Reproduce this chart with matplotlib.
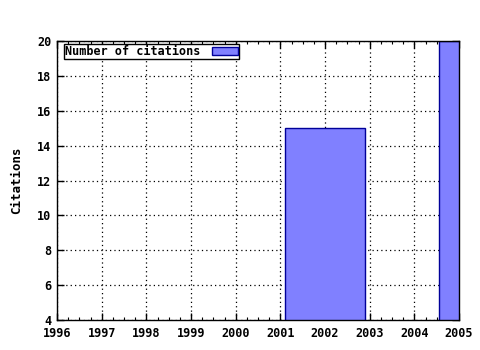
import matplotlib
matplotlib.use("Agg")
import matplotlib.pyplot as plt
from matplotlib.ticker import MultipleLocator

# values
years = [2002, 2005]
citations = [15, 20]
widths = [1.8, 0.9]
xticks = list(range(1996, 2006))
yticks = list(range(4, 21, 2))

plt.rcParams['font.family'] = ['DejaVu Sans Mono']
plt.rcParams['font.weight'] = 'bold'
plt.rcParams['axes.labelweight'] = 'bold'
plt.rcParams['font.size'] = 8.5

fig = plt.figure(figsize=(4.8, 3.5), dpi=100)
ax = fig.add_axes([0.11875, 0.0857, 0.8375, 0.797])

ax.bar(years, citations, width=widths, color='#8080ff', edgecolor='#000099',
       linewidth=1, label='Number of citations', zorder=3, clip_on=True)

ax.set_xlim(1996, 2005)
ax.set_ylim(4, 20)
ax.set_xticks(xticks)
ax.set_yticks(yticks)
ax.xaxis.set_minor_locator(MultipleLocator(0.25))
ax.tick_params(which='both', direction='in', top=True, right=True, color='black')
ax.tick_params(which='major', length=5, width=1)
ax.tick_params(which='minor', length=2.5, width=0.8)
ax.tick_params(axis='x', pad=5)
ax.tick_params(axis='y', pad=4)
ax.grid(True, which='major', linestyle=(0, (1, 2.5)), color='black', linewidth=0.9, zorder=1)
for s in ax.spines.values():
    s.set_linewidth(1)
    s.set_zorder(4)

ax.set_ylabel('Citations', labelpad=10, fontsize=9)

leg = ax.legend(loc='upper left', markerfirst=False, fancybox=False, framealpha=1,
                edgecolor='black', borderpad=0.1, handlelength=2.2, handleheight=0.6,
                handletextpad=1.0, borderaxespad=0.25, bbox_to_anchor=(0.01, 1.0))
leg.get_frame().set_linewidth(1)
leg.set_zorder(5)

fig.savefig('out.png', dpi=100)
